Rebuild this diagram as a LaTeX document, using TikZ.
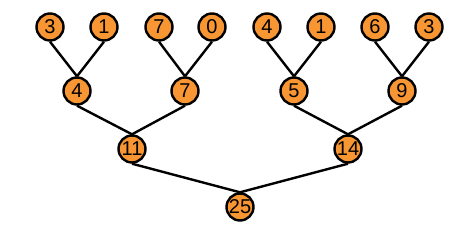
\documentclass[tikz,border=0pt]{standalone}
\usepackage{fontspec}
\setmainfont{Liberation Sans}
\definecolor{nodeorange}{RGB}{247,150,50}
\begin{document}
\begin{tikzpicture}[x=1pt,y=-1pt,
  tn/.style={circle,draw=black,fill=nodeorange,line width=2.4pt,minimum size=27pt,inner sep=0pt,font=\fontsize{20}{20}\selectfont},
  ed/.style={draw=black,line width=2.4pt}]
\useasboundingbox (0,0) rectangle (476,230);
\node[tn] (l1) at (50,27) {3};
\node[tn] (l2) at (104,27) {1};
\node[tn] (l3) at (159,27) {7};
\node[tn] (l4) at (212,27) {0};
\node[tn] (l5) at (267,27) {4};
\node[tn] (l6) at (321,27) {1};
\node[tn] (l7) at (375,27) {6};
\node[tn] (l8) at (429,27) {3};
\node[tn] (m1) at (77,91) {4};
\node[tn] (m2) at (185,91) {7};
\node[tn] (m3) at (294,91) {5};
\node[tn] (m4) at (402,91) {9};
\node[tn] (n1) at (132,149) {11};
\node[tn] (n2) at (348,149) {14};
\node[tn] (r) at (240,207) {25};
\foreach \c/\p in {l1/m1,l2/m1,l3/m2,l4/m2,l5/m3,l6/m3,l7/m4,l8/m4,m1/n1,m2/n1,m3/n2,m4/n2,n1/r,n2/r}
  \draw[ed] (\c.south) -- (\p.north);
\end{tikzpicture}
\end{document}
